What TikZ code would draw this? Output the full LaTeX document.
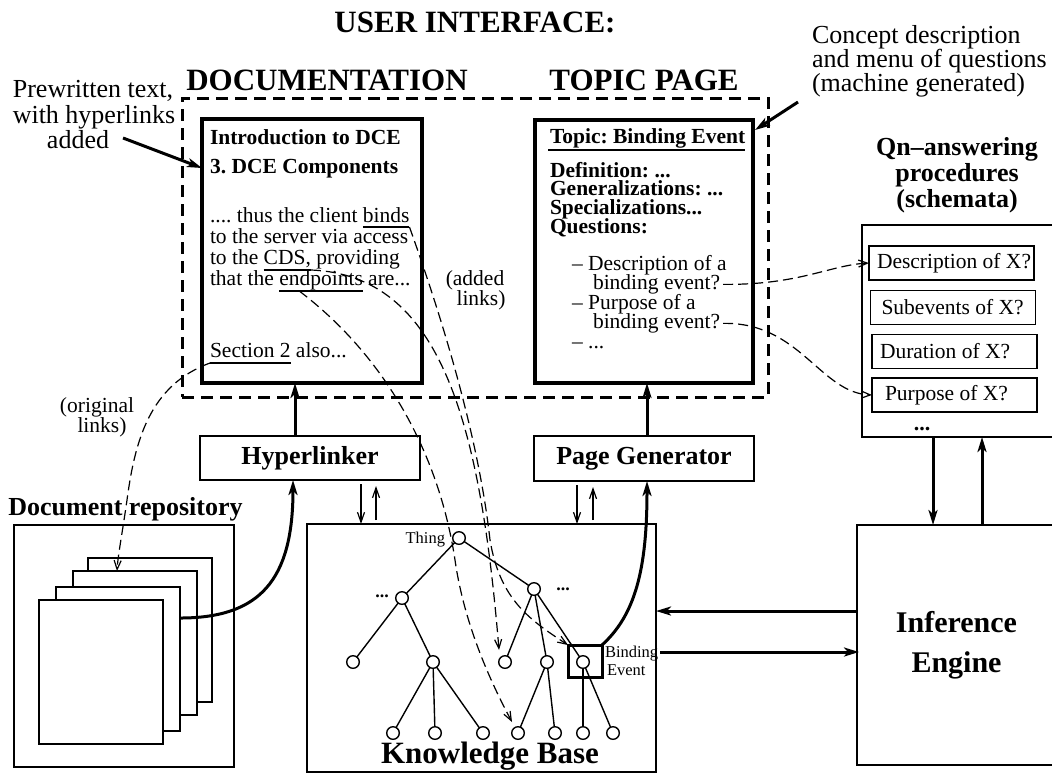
\documentclass[tikz,border=0pt]{standalone}
\usepackage{fontspec}
\setmainfont{Liberation Serif}
\usetikzlibrary{arrows.meta}
\begin{document}
\frenchspacing
\begin{tikzpicture}[x=0.5pt,y=-0.5pt,
 every node/.style={inner sep=0pt, outer sep=0pt},
 hdr/.style={font=\fontsize{15.5}{18}\selectfont\bfseries},
 mbold/.style={font=\fontsize{13}{13.5}\selectfont\bfseries},
 ann/.style={font=\fontsize{13}{12.75}\selectfont},
 body/.style={font=\fontsize{10.75}{10.5}\selectfont},
 bbody/.style={font=\fontsize{10.75}{10.5}\selectfont\bfseries},
 small/.style={font=\fontsize{8.25}{8.5}\selectfont},
 thickbox/.style={draw, line width=2pt},
 thinbox/.style={draw, line width=0.8pt},
 uline/.style={line width=1.3pt},
 bigarrow/.style={line width=1.5pt, -{Stealth[length=7.5pt,width=4.5pt,inset=2pt]}},
 thinarrow/.style={line width=0.6pt, -{Straight Barb[length=5pt,width=3.5pt]}},
 linkarrow/.style={line width=0.6pt, dash pattern=on 5pt off 2.5pt, -{Straight Barb[length=4.5pt,width=3.5pt]}},
 tnode/.style={circle, draw, line width=0.7pt, minimum size=6.3pt, fill=white},
 tedge/.style={line width=0.7pt},
 page/.style={thinbox, fill=white, minimum width=62pt, minimum height=72pt},
 qbox/.style={thinbox, minimum height=17pt, minimum width=82.5pt, inner xsep=4pt, font=\fontsize{10.75}{10.5}\selectfont}
]
\useasboundingbox (0,0) rectangle (1052,773);

% headings
\node[hdr, anchor=base] (ui) at (475,32) {USER INTERFACE:};
\node[hdr, anchor=base] (docT) at (327,90) {DOCUMENTATION};
\node[hdr, anchor=base] (topT) at (644,90) {TOPIC PAGE};

% annotations
\node[ann, anchor=base] (pw1) at (93,97) {Prewritten text,};
\node[ann, anchor=base] (pw2) at (94,123) {with hyperlinks};
\node[ann, anchor=base] (pw3) at (78,148) {added};
\node[ann, anchor=base west] (cd1) at (812,43) {Concept description};
\node[ann, anchor=base west] (cd2) at (812,67) {and menu of questions};
\node[ann, anchor=base west] (cd3) at (812,91) {(machine generated)};

% UI boxes
\node[draw, line width=1.5pt, dash pattern=on 6pt off 3.5pt, minimum width=293pt, minimum height=149.5pt] (uibox) at (475,247.5) {};
\node[thickbox, minimum width=110pt, minimum height=132pt] (docbox) at (312,251) {};
\node[thickbox, minimum width=109pt, minimum height=131.5pt] (topic) at (644,251.5) {};

% documentation text
\node[bbody, anchor=base west] (d1) at (210,144) {Introduction to DCE};
\node[bbody, anchor=base west] (d2) at (210,173) {3. DCE Components};
\node[body, anchor=base west] (d3a) at (210,222) {.... thus the client\ \null};
\node[body, anchor=base west] (binds) at (d3a.base east) {binds};
\node[body, anchor=base west] (d4) at (210,243) {to the server via access};
\node[body, anchor=base west] (d5a) at (210,264) {to the\ \null};
\node[body, anchor=base west] (cds) at (d5a.base east) {CDS,};
\node[body, anchor=base west] (d5c) at (cds.base east) {\null\ providing};
\node[body, anchor=base west] (d6a) at (210,285) {that the\ \null};
\node[body, anchor=base west] (endp) at (d6a.base east) {endpoints};
\node[body, anchor=base west] (d6c) at (endp.base east) {\null\ are...};
\node[body, anchor=base west] (sec2) at (210,357) {Section 2};
\node[body, anchor=base west] (d7b) at (sec2.base east) {\null\ also...};
\draw[uline] ([shift={(0,5)}]binds.base west) -- ([shift={(0,5)}]binds.base east);
\draw[uline] ([shift={(0,6)}]cds.base west) -- ([shift={(0,6)}]cds.base east);
\draw[uline] ([shift={(0,6)}]endp.base west) -- ([shift={(0,6)}]endp.base east);
\draw[uline] ([shift={(0,6)}]sec2.base west) -- ([shift={(0,6)}]sec2.base east);

% topic page text
\node[bbody, anchor=base west] (t1) at (550,143) {Topic: Binding Event};
\draw[uline] ([shift={(-2,7)}]t1.base west) -- ([shift={(0,7)}]t1.base east);
\node[bbody, anchor=base west] (t2) at (550,177) {Definition: ...};
\node[bbody, anchor=base west] (t3) at (550,195.7) {Generalizations: ...};
\node[bbody, anchor=base west] (t4) at (550,214.3) {Specializations...};
\node[bbody, anchor=base west] (t5) at (550,233) {Questions:};
\node[body, anchor=base west] (q1) at (572,270) {– Description of a};
\node[body, anchor=base west] (q2) at (593,289.5) {binding event?};
\node[body, anchor=base west] (q3) at (572,309) {– Purpose of a};
\node[body, anchor=base west] (q4) at (593,328.5) {binding event?};
\node[body, anchor=base west] (q5) at (572,348) {– ...};

% link labels
\node[body, anchor=base] (al1) at (475,285) {(added};
\node[body, anchor=base] (al2) at (481,305) {links)};
\node[body, anchor=base] (ol1) at (97,412) {(original};
\node[body, anchor=base] (ol2) at (102,432) {links)};

% schemata
\node[mbold, anchor=base] (qa1) at (957,155) {Qn–answering};
\node[mbold, anchor=base] (qa2) at (957,181) {procedures};
\node[mbold, anchor=base] (qa3) at (957,207) {(schemata)};
\node[thinbox, minimum width=97pt, minimum height=106pt] (sch) at (959,331) {};
\node[qbox] (desc) at (951.5,263) {\makebox[74.5pt][l]{Description of X?}};
\node[qbox] (subev) at (953,307.5) {\makebox[74.5pt][l]{\hspace*{1.5pt}Subevents of X?}};
\node[qbox] (dur) at (954.5,351.5) {\makebox[74.5pt][l]{Duration of X?}};
\node[qbox] (purp) at (954.5,395) {\makebox[74.5pt][l]{\hspace*{2.5pt}Purpose of X?}};
\node[font=\fontsize{11}{11}\selectfont\bfseries, anchor=base] (sdots) at (922,430) {...};

% processing boxes
\node[thinbox, mbold, minimum width=110pt, minimum height=22pt] (hl) at (310,458) {Hyperlinker};
\node[thinbox, mbold, minimum width=110pt, minimum height=22.5pt] (pg) at (644,458.5) {Page Generator};

% document repository
\node[mbold, anchor=base] (drt) at (125.5,515) {Document repository};
\node[thinbox, minimum width=110pt, minimum height=121pt] (repo) at (124,646) {};
\node[page] (pg1) at (150,630) {};
\node[page] (pg2) at (135,643) {};
\node[page] (pg3) at (118,659) {};
\node[page] (pg4) at (101,672) {};

% knowledge base
\node[thinbox, minimum width=174.5pt, minimum height=124pt] (kb) at (481.5,648) {};
\node[font=\fontsize{15.5}{18}\selectfont\bfseries, anchor=base] (kbt) at (490,763) {Knowledge Base};
\node[tnode] (n0) at (459,538) {};
\node[tnode] (n1) at (402,598) {};
\node[tnode] (n2) at (534,589) {};
\node[tnode] (n3a) at (353,662) {};
\node[tnode] (n3b) at (433,662) {};
\node[tnode] (n3c) at (505,662) {};
\node[tnode] (n3d) at (547,662) {};
\node[tnode] (n3e) at (583,662) {};
\node[tnode] (n4a) at (393,733) {};
\node[tnode] (n4b) at (435,733) {};
\node[tnode] (n4c) at (483,733) {};
\node[tnode] (n4d) at (518,733) {};
\node[tnode] (n4e) at (555,733) {};
\node[tnode] (n4f) at (583,733) {};
\node[tnode] (n4g) at (613,733) {};
\foreach \a/\b in {n0/n1,n0/n2,n1/n3a,n1/n3b,n2/n3c,n2/n3d,n2/n3e,n3b/n4a,n3b/n4b,n3b/n4c,n3d/n4d,n3d/n4e,n3e/n4f,n3e/n4g}
  \draw[tedge] (\a) -- (\b);
\node[small, anchor=base east] (thingl) at (445,543) {Thing};
\node[font=\fontsize{9}{9}\selectfont\bfseries] (dl) at (382,596) {...};
\node[font=\fontsize{9}{9}\selectfont\bfseries] (dr) at (563,589) {...};
\node[draw, line width=1.5pt, minimum width=17pt, minimum height=16pt] (bbox) at (585,661) {};
\node[small, anchor=base west] (bl1) at (605,657) {Binding};
\node[small, anchor=base west] (bl2) at (607,675) {Event};

% inference engine
\node[thinbox, minimum width=99.5pt, minimum height=120pt, align=center, font=\fontsize{15}{20}\selectfont\bfseries] (ie) at (956.5,645) {Inference\\Engine};

% thick arrows
\draw[bigarrow] ([shift={(14,-10)}]pw3.base east) -- ([shift={(0,49)}]docbox.north west);
\draw[bigarrow] ([shift={(-14,11)}]cd3.base west) -- ([shift={(2,10)}]topic.north east);
\draw[bigarrow] ([xshift=-7.5pt]hl.north) -- ([xshift=-7.5pt]hl.north |- docbox.south);
\draw[bigarrow] ([xshift=1.5pt]pg.north) -- ([xshift=1.5pt]pg.north |- topic.south);
\draw[bigarrow] ([shift={(0,-41)}]pg3.east) .. controls (260,618) and (293,580) .. ([xshift=-8.5pt]hl.south);
\draw[bigarrow] (bbox.north east) .. controls (635,615) and (647,570) .. ([xshift=1.5pt]pg.south);
\draw[bigarrow] ([yshift=17pt]ie.west) -- ([yshift=17pt]ie.west -| kb.east);
\draw[bigarrow] ([shift={(2,-5)}]bl1.base east) -- ([shift={(2,-5)}]bl1.base east -| ie.west);
\draw[bigarrow] ([xshift=-13pt]sch.south) -- ([xshift=-13pt]sch.south |- ie.north);
\draw[bigarrow] ([xshift=11.5pt]sch.south |- ie.north) -- ([xshift=11.5pt]sch.south);

% thin arrows
\draw[thinarrow] ([shift={(51,4)}]hl.south) -- ([shift={(51,0)}]hl.south |- kb.north);
\draw[thinarrow] ([shift={(66,-4)}]hl.south |- kb.north) -- ([shift={(66,6)}]hl.south);
\draw[thinarrow] ([shift={(-67,4)}]pg.south) -- ([shift={(-67,0)}]pg.south |- kb.north);
\draw[thinarrow] ([shift={(-51,-4)}]pg.south |- kb.north) -- ([shift={(-51,6)}]pg.south);

% dashed links
\draw[linkarrow] ([shift={(0,5)}]binds.base east) .. controls (450,340) and (480,450) .. (490,540) .. controls (500,600) and (530,620) .. (bbox.north west);
\draw[linkarrow] ([shift={(0,6)}]cds.base east) .. controls (440,275) and (480,420) .. ([shift={(-6,-12)}]n3c.center);
\draw[linkarrow] ([shift={(20,6)}]endp.base west) .. controls (390,360) and (440,460) .. (455,560) .. controls (465,630) and (495,690) .. ([shift={(-6,-11)}]n4d.center);
\draw[linkarrow] ([shift={(0,6)}]sec2.base west) .. controls (150,385) and (135,440) .. (127,500) .. controls (122,535) and (118,555) .. ([xshift=-9pt]pg2.north);
\draw[linkarrow] ([xshift=1.5pt]q2.east) .. controls (800,285) and (830,265) .. (desc.west);
\draw[linkarrow] ([xshift=1.5pt]q4.east) .. controls (800,322) and (820,393) .. (purp.west);
\end{tikzpicture}
\end{document}
